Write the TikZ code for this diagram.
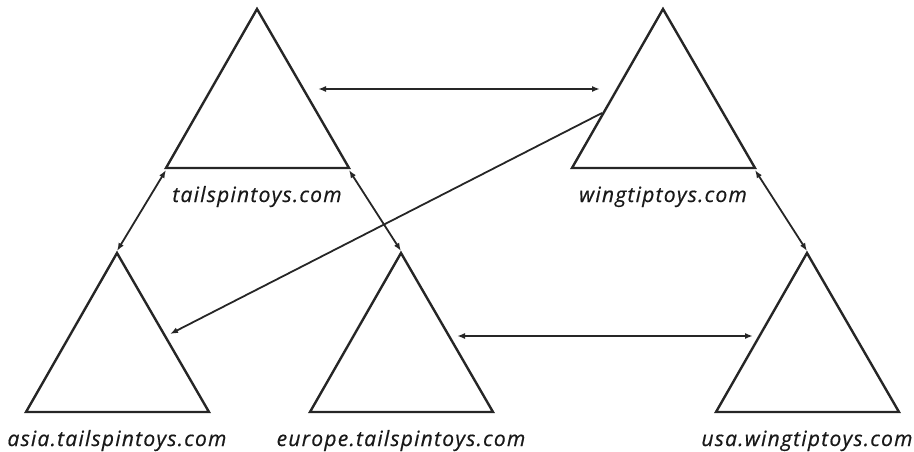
\documentclass[tikz,border=0pt]{standalone}
\usepackage{fontspec}
\setmainfont{Open Sans}[LetterSpace=6, FakeBold=0.6]
\usetikzlibrary{calc,arrows.meta}

\tikzset{
  tri/.style={line width=2.4pt, draw=black!85},
  lbl/.style={font=\fontsize{21}{24}\selectfont\itshape, text=black!90, inner sep=0pt, anchor=base},
  link/.style={line width=1.8pt, draw=black!85,
    {Latex[length=8pt,width=6pt]}-{Latex[length=8pt,width=6pt]}},
  oneway/.style={line width=1.8pt, draw=black!85, -{Latex[length=8pt,width=6pt]}},
  domain/.pic={
    \coordinate (-apex) at (0,0);
    \coordinate (-left) at (-91,159);
    \coordinate (-right) at (92,159);
    \draw[tri] (-apex) -- (-left) -- (-right) -- cycle;
    \node[lbl] (-name) at (0,193) {#1};
  },
}

\begin{document}
\begin{tikzpicture}[x=1pt,y=-1pt]
  \useasboundingbox (0,0) rectangle (914,452);

  % forest roots
  \pic (ts) at (257,9) {domain=tailspintoys.com};
  \pic (wt) at (663,9) {domain=wingtiptoys.com};
  % child domains
  \pic (asia) at (117,253) {domain=asia.tailspintoys.com};
  \pic (eu) at (401,253) {domain=europe.tailspintoys.com};
  \pic (usa) at (807,253) {domain=usa.wingtiptoys.com};

  \coordinate (ts-e) at (318,89);
  \coordinate (wt-w) at (600,89);
  \coordinate (wt-sw) at (602,113);
  \coordinate (asia-e) at (170,334);
  \coordinate (eu-e) at (457,336);
  \coordinate (usa-w) at (753,336);

  % trusts
  \draw[link, line width=2.6pt] (ts-e) -- (wt-w);
  \draw[oneway] (wt-sw) -- (asia-e);
  \draw[link] (eu-e) -- (usa-w);
  \draw[link] ($(ts-left)+(0,2)$) -- ($(asia-apex)+(0,-2)$);
  \draw[link] ($(ts-right)+(0,2)$) -- ($(eu-apex)+(0,-2)$);
  \draw[link] ($(wt-right)+(0,2)$) -- ($(usa-apex)+(0,-2)$);
\end{tikzpicture}
\end{document}
